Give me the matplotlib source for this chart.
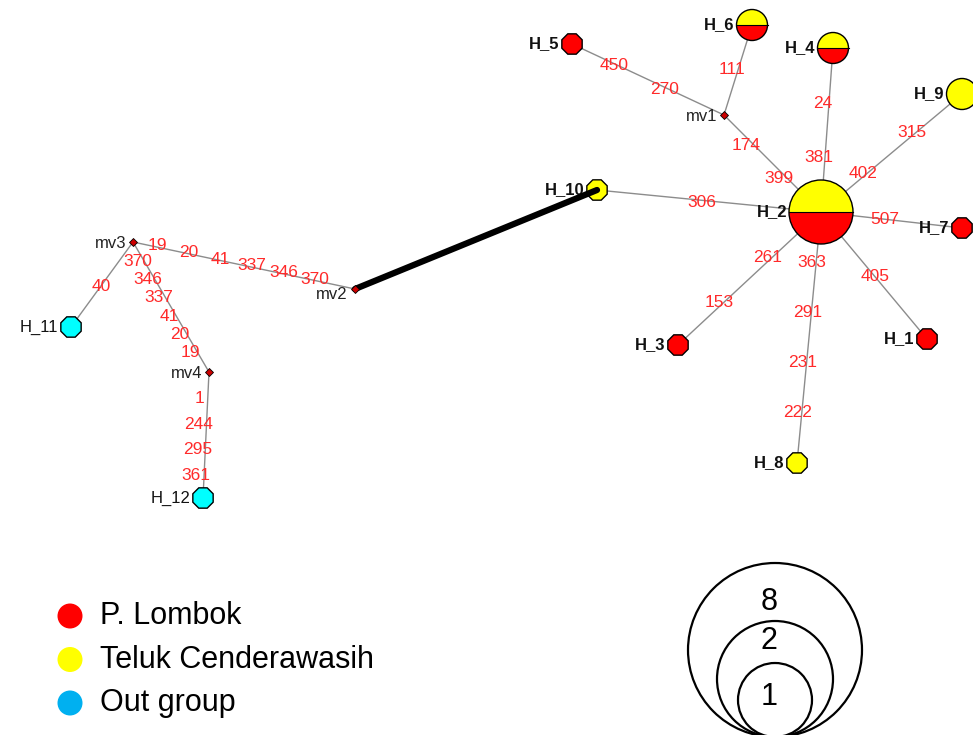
import numpy as np
import matplotlib.pyplot as plt
from matplotlib.patches import Circle, Wedge, RegularPolygon

plt.rcParams['font.family'] = ['Liberation Sans', 'DejaVu Sans']

# haplotypes: name, layout position (px), frequency, share of P. Lombok
hap_names = ['H_1', 'H_2', 'H_3', 'H_4', 'H_5', 'H_6', 'H_7', 'H_8',
             'H_9', 'H_10', 'H_11', 'H_12']
hap_x = [927, 821, 678, 833, 572, 752, 962, 797, 962, 597, 71, 203]
hap_y = [339, 212, 345, 48, 44, 25, 228, 463, 94, 190, 327, 498]
hap_freq = [1, 8, 1, 2, 1, 2, 1, 1, 2, 1, 1, 1]
hap_pop = ['L', 'LT', 'L', 'LT', 'L', 'LT', 'L', 'T', 'T', 'T', 'O', 'O']

# median vectors
mv_names = ['mv1', 'mv2', 'mv3', 'mv4']
mv_x = [724, 355, 133, 209]
mv_y = [115, 289, 242, 372]

# edges and mutated positions (listed from the first node outwards)
edge_from = ['mv1', 'mv1', 'H_2', 'H_2', 'H_2', 'H_2', 'H_2', 'H_2', 'H_2', 'H_2',
             'mv3', 'mv3', 'mv3', 'mv4']
edge_to = ['H_5', 'H_6', 'mv1', 'H_4', 'H_9', 'H_10', 'H_7', 'H_3', 'H_8', 'H_1',
           'mv2', 'H_11', 'mv4', 'H_12']
edge_muts = [[270, 450], [111], [399, 174], [381, 24], [402, 315], [306], [507],
             [261, 153], [363, 291, 231, 222], [405],
             [19, 20, 41, 337, 346, 370], [40], [370, 346, 337, 41, 20, 19],
             [1, 244, 295, 361]]
# where the labels sit along each edge (fraction start/end) and nudge in px
lab_t = [(0.39, 0.72), (0.51, 0.51), (0.40, 0.74), (0.33, 0.66), (0.33, 0.67),
         (0.53, 0.53), (0.45, 0.45), (0.34, 0.68), (0.20, 0.80), (0.51, 0.51),
         (0.11, 0.82), (0.52, 0.52), (0.15, 0.85), (0.21, 0.82)]
lab_d = [(0, 2), (-6, 0), (-3, 5), (-6, 0), (-4, 0), (0, 2), (0, 0), (-5, 0),
         (-4, 0), (0, 0), (0, -1.5), (0, 0), (-7, 0), (-8, 0)]

legend_labels = ['P. Lombok', 'Teluk Cenderawasih', 'Out group']
legend_colors = ['#ff0000', '#ffff00', '#00b0f0']
size_labels = ['8', '2', '1']

pos = {}
for n, x, y in zip(hap_names, hap_x, hap_y):
    pos[n] = (x, y)
for n, x, y in zip(mv_names, mv_x, mv_y):
    pos[n] = (x, y)

radius = {1: 11, 2: 15.5, 8: 32}

fig = plt.figure(figsize=(9.73, 7.35), dpi=100)
ax = fig.add_axes([0, 0, 1, 1])
ax.set_xlim(0, 973)
ax.set_ylim(735, 0)
ax.set_aspect('equal')
ax.axis('off')

# edges
for a, b, muts, (t0, t1), (dx, dy) in zip(edge_from, edge_to, edge_muts, lab_t, lab_d):
    xa, ya = pos[a]
    xb, yb = pos[b]
    ax.plot([xa, xb], [ya, yb], color='#8c8c8c', lw=1.0, zorder=1)
    ts = np.linspace(t0, t1, len(muts))
    for m, t in zip(muts, ts):
        ax.text(xa + t * (xb - xa) + dx, ya + t * (yb - ya) + dy, str(m),
                color='#ff2a2a', fontsize=12.5, ha='center', va='center', zorder=4)

# long branch to the outgroup
ax.plot([pos['mv2'][0], pos['H_10'][0]], [pos['mv2'][1], pos['H_10'][1]],
        color='black', lw=4.5, solid_capstyle='round', zorder=5)

# haplotype nodes
for n, f, p in zip(hap_names, hap_freq, hap_pop):
    x, y = pos[n]
    r = radius[f]
    col = {'L': '#ff0000', 'T': '#ffff00', 'O': '#00ffff'}.get(p)
    if p == 'LT':
        ax.add_patch(Wedge((x, y), r, 180, 360, facecolor='#ffff00', edgecolor='none', zorder=3))
        ax.add_patch(Wedge((x, y), r, 0, 180, facecolor='#ff0000', edgecolor='none', zorder=3))
        ax.plot([x - r, x + r], [y, y], color='black', lw=0.8, zorder=3)
        ax.add_patch(Circle((x, y), r, facecolor='none', edgecolor='black', lw=1.0, zorder=3))
    elif f > 1:
        ax.add_patch(Circle((x, y), r, facecolor=col, edgecolor='black', lw=1.0, zorder=3))
    else:
        ax.add_patch(RegularPolygon((x, y), 8, radius=r, orientation=np.pi / 8,
                                    facecolor=col, edgecolor='black', lw=1.0, zorder=3))
    bold = 'bold' if n not in ('H_11', 'H_12') else 'normal'
    ax.text(x - r - 2, y, n, fontsize=12, fontweight=bold, ha='right', va='center',
            color='#111111', zorder=4)

# median vectors
for n in mv_names:
    x, y = pos[n]
    ax.plot(x, y, marker='D', markersize=4.5, color='#cc0000', mec='black', mew=0.6, zorder=6)
    dy = 5 if n == 'mv2' else 1
    ax.text(x - 7, y + dy, n, fontsize=12, ha='right', va='center', color='#222222', zorder=4)

# legend: populations
for i, (lab, col) in enumerate(zip(legend_labels, legend_colors)):
    yy = 616 + i * 43.5
    ax.add_patch(Circle((70, yy), 12.5, facecolor=col, edgecolor='none'))
    ax.text(100, yy, lab, fontsize=22, ha='left', va='center')

# legend: circle sizes
size_r = [87, 58, 37]
size_ty = [602, 641, 697]
for lab, r, ty in zip(size_labels, size_r, size_ty):
    ax.add_patch(Circle((775, 737 - r), r, facecolor='none', edgecolor='black', lw=1.6))
    ax.text(769, ty, lab, fontsize=22, ha='center', va='center')

fig.savefig('out.png', dpi=100)
